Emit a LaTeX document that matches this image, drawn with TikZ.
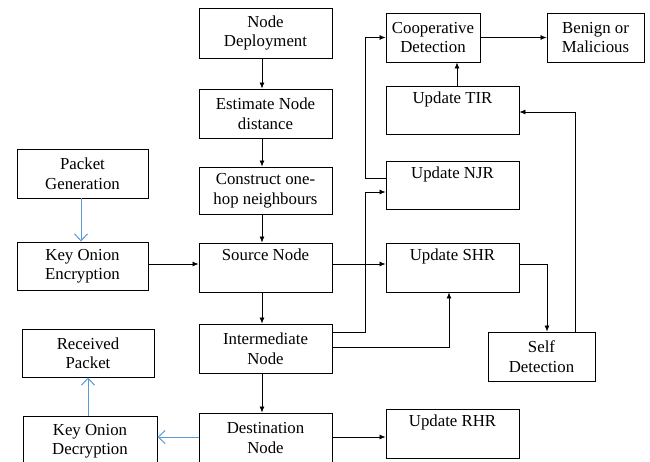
\documentclass[tikz,border=0pt]{standalone}
\usepackage{fontspec}
\setmainfont{Liberation Serif}
\newfontfamily\boxfont{Liberation Serif}
\usetikzlibrary{arrows.meta}
\definecolor{flowblue}{HTML}{5B9BD5}
\begin{document}
\begin{tikzpicture}[x=1pt,y=-1pt,
  box/.style={draw, line width=0.9pt, inner sep=0pt, align=center,
    font=\boxfont\fontsize{16.8}{19.5}\selectfont, minimum height=49pt},
  arr/.style={draw, line width=0.75pt, -{Latex[length=6pt,width=5pt]}},
  barr/.style={draw=flowblue, line width=1pt, -{Straight Barb[length=7pt,width=13pt]}}]
\useasboundingbox (0,0) rectangle (650,461);
% main column
\node[box, minimum width=133pt, minimum height=50pt] (dep) at (265.5,33) {Node\\Deployment};
\node[box, minimum width=133pt] (est) at (265.5,113.5) {Estimate Node\\distance};
\node[box, minimum width=133pt, minimum height=47pt] (con) at (265.5,190.5) {Construct one-\\hop neighbours};
\node[box, minimum width=133pt] (src) at (265.5,267.5) {Source Node\\\strut};
\node[box, minimum width=133pt] (int) at (265.5,348.5) {Intermediate\\Node};
\node[box, minimum width=133pt, minimum height=50pt] (dst) at (265.5,438) {Destination\\Node};
% left column
\node[box, minimum width=131pt] (pkt) at (82.5,173.5) {Packet\\Generation};
\node[box, minimum width=131pt, minimum height=48pt] (koe) at (82.5,266) {Key Onion\\Encryption};
\node[box, minimum width=132pt, minimum height=48pt] (rcv) at (88,353) {Received\\Packet};
\node[box, minimum width=134pt, minimum height=50pt] (kod) at (90,441) {Key Onion\\Decryption};
% right part
\node[box, minimum width=94pt] (coop) at (433,37.5) {Cooperative\\Detection};
\node[box, minimum width=97pt] (ben) at (595.5,37.5) {Benign or\\Malicious};
\node[box, minimum width=133pt, minimum height=48pt] (tir) at (452.5,110) {Update TIR\\\strut};
\node[box, minimum width=133pt, minimum height=48pt] (njr) at (452.5,185) {Update NJR\\\strut};
\node[box, minimum width=133pt] (shr) at (452.5,267.5) {Update SHR\\\strut};
\node[box, minimum width=107pt] (self) at (541.5,356.5) {Self\\Detection};
\node[box, minimum width=133pt] (rhr) at (452.5,433.5) {Update RHR\\\strut};
% helper coordinates
\coordinate (spine) at (262,0);
\coordinate (bus) at (365,0);
\coordinate (rowA) at (0,264);
\coordinate (rowD) at (0,437);
% main column arrows
\draw[arr] (dep.south -| spine) -- (est.north -| spine);
\draw[arr] (est.south -| spine) -- (con.north -| spine);
\draw[arr] (con.south -| spine) -- (src.north -| spine);
\draw[arr] (src.south -| spine) -- (int.north -| spine);
\draw[arr] (int.south -| spine) -- (dst.north -| spine);
% left side
\draw[barr] (pkt.south -| 81,0) -- (koe.north -| 81,0);
\draw[arr] (koe.east |- rowA) -- (src.west |- rowA);
\draw[barr] (dst.west |- rowD) -- (kod.east |- rowD);
\draw[barr] (kod.north -| 88,0) -- (rcv.south -| 88,0);
% right side
\draw[arr] (src.east |- rowA) -- (shr.west |- rowA);
\draw[arr] (int.east |- 0,332) -| (bus |- 0,192) -- (njr.west |- 0,192);
\draw[arr] (njr.west |- 0,178) -| (bus |- coop.west) -- (coop.west);
\draw[arr] (int.east |- 0,347) -| (shr.south -| 449,0);
\draw[arr] (shr.east |- rowA) -| (self.north -| 547,0);
\draw[arr] (self.north -| 575,0) |- (tir.east |- 0,112);
\draw[arr] (tir.north -| 457,0) -- (coop.south -| 457,0);
\draw[arr] (coop.east) -- (ben.west);
\draw[arr] (dst.east |- rowD) -- (rhr.west |- rowD);
\end{tikzpicture}
\end{document}
